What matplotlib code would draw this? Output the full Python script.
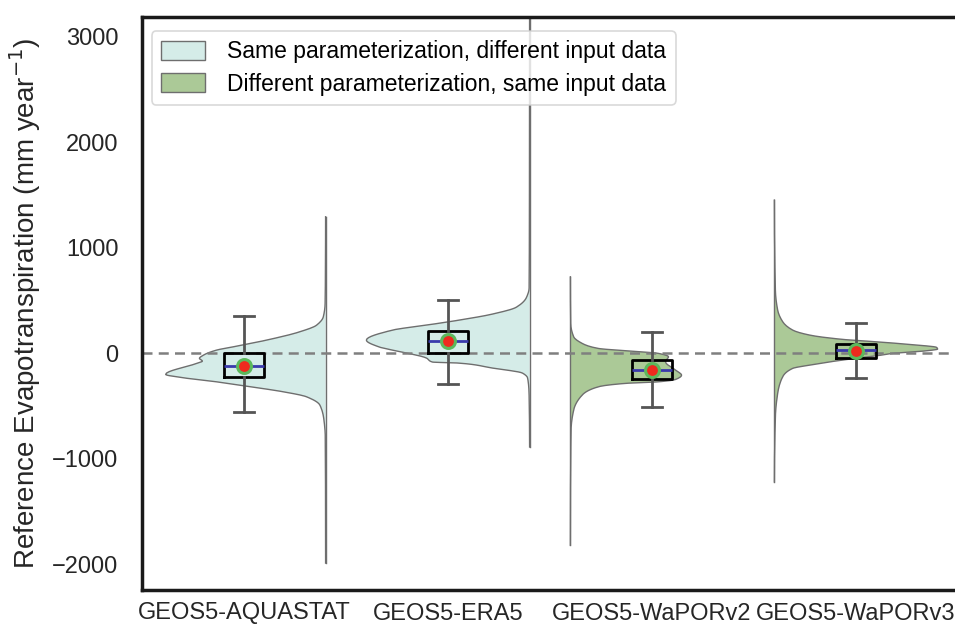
import matplotlib
matplotlib.use("Agg")
import matplotlib.pyplot as plt
from matplotlib.patches import Patch
import numpy as np

plt.rcParams['font.family'] = ['Liberation Sans', 'DejaVu Sans']

categories = ["GEOS5-AQUASTAT", "GEOS5-ERA5", "GEOS5-WaPORv2", "GEOS5-WaPORv3"]
groups = ["same", "same", "diff", "diff"]
legend_labels = ["Same parameterization, different input data",
                 "Different parameterization, same input data"]

# box statistics (mm/year)
q1 = [-227, 0, -246, -47]
med = [-123, 114, -161, 28]
q3 = [0, 208, -66, 85]
whislo = [-560, -294, -512, -237]
whishi = [350, 502, 199, 284]
means = [-123, 114, -161, 19]

# half-violin density profiles (y in mm/year, relative density)
aq_y = [-1990, -793, -635, -493, -414, -367, -319, -272, -234, -202, -98, -76, -50, -19, 28, 60, 123, 202, 265, 344, 471, 800, 1292]
aq_d = [0.0, 0.002, 0.010, 0.035, 0.117, 0.258, 0.46, 0.669, 0.871, 0.98, 0.791, 0.755, 0.773, 0.748, 0.669, 0.564, 0.362, 0.158, 0.055, 0.014, 0.003, 0.001, 0.0]
era_y = [-890, -400, -237, -190, -142, -95, -85, -47, 28, 57, 123, 218, 265, 313, 370, 436, 531, 616, 1500, 3400]
era_d = [0.0, 0.003, 0.012, 0.043, 0.227, 0.43, 0.595, 0.632, 0.84, 0.92, 1.0, 0.84, 0.632, 0.43, 0.227, 0.08, 0.018, 0.003, 0.001, 0.0]
wv2_y = [-1820, -730, -540, -398, -319, -287, -272, -250, -209, -161, -82, -35, -3, 22, 44, 92, 155, 281, 723]
wv2_d = [0.0, 0.004, 0.020, 0.072, 0.172, 0.337, 0.54, 0.644, 0.681, 0.644, 0.583, 0.601, 0.54, 0.337, 0.172, 0.072, 0.020, 0.002, 0.0]
wv3_y = [-1220, -604, -382, -224, -145, -114, -66, -26, -3, 22, 38, 54, 82, 107, 130, 171, 218, 297, 408, 597, 1450]
wv3_d = [0.0, 0.006, 0.020, 0.051, 0.112, 0.215, 0.417, 0.626, 0.724, 0.933, 1.0, 0.994, 0.828, 0.626, 0.417, 0.215, 0.112, 0.051, 0.020, 0.006, 0.0]

profiles = [(aq_y, aq_d), (era_y, era_d), (wv2_y, wv2_d), (wv3_y, wv3_d)]

fill_colors = {"same": "#d5ece8", "diff": "#abc997"}
edge_color = "#6e6e6e"


def pchip_curve(x, y, n=8):
    """Monotone cubic (Fritsch-Carlson) through the read points, for a smooth outline."""
    x = np.asarray(x, float)
    y = np.asarray(y, float)
    h = np.diff(x)
    delta = np.diff(y) / h
    m = np.zeros_like(y)
    for k in range(1, len(y) - 1):
        if delta[k - 1] * delta[k] > 0:
            w1 = 2 * h[k] + h[k - 1]
            w2 = h[k] + 2 * h[k - 1]
            m[k] = (w1 + w2) / (w1 / delta[k - 1] + w2 / delta[k])
    m[0] = 0.0
    m[-1] = 0.0
    xs, ys = [], []
    for k in range(len(x) - 1):
        t = np.linspace(0, 1, n, endpoint=False)
        h00 = 2 * t**3 - 3 * t**2 + 1
        h10 = t**3 - 2 * t**2 + t
        h01 = -2 * t**3 + 3 * t**2
        h11 = t**3 - t**2
        xs.append(x[k] + t * h[k])
        ys.append(h00 * y[k] + h10 * h[k] * m[k] + h01 * y[k + 1] + h11 * h[k] * m[k + 1])
    xs.append([x[-1]])
    ys.append([y[-1]])
    return np.concatenate(xs), np.clip(np.concatenate(ys), 0, None)


fig = plt.figure(figsize=(9.55, 6.3), dpi=100)
ax = fig.add_axes([142/955, 1-590/630, 816/955, 573/630])

half_width = 0.8
offset = 0.40
for i, (yy, dd) in enumerate(profiles):
    ys, ds = pchip_curve(yy, dd)
    if i < 2:
        base = i + offset
        xs = base - ds * half_width
    else:
        base = i - offset
        xs = base + ds * half_width
    ax.fill_betweenx(ys, base, xs, facecolor=fill_colors[groups[i]],
                     edgecolor='none', zorder=1)
    ax.plot(xs, ys, color=edge_color, lw=1.0, zorder=1.5)
    ax.plot([base, base], [ys[0], ys[-1]], color=edge_color, lw=1.0, zorder=1.5)

ax.axhline(0, color='#7f7f7f', lw=1.8, ls=(0, (4, 2.5)), zorder=2)

stats = []
for i in range(len(categories)):
    stats.append(dict(q1=q1[i], med=med[i], q3=q3[i], whislo=whislo[i],
                      whishi=whishi[i], mean=means[i], fliers=[], label=categories[i]))

ax.bxp(stats, positions=range(len(categories)), widths=0.2, showmeans=True,
       showfliers=False, patch_artist=False,
       boxprops=dict(color='black', lw=2),
       whiskerprops=dict(color='#555555', lw=2),
       capprops=dict(color='#555555', lw=2),
       medianprops=dict(color='#3a3aac', lw=2),
       meanprops=dict(marker='o', markerfacecolor='#ee2a1e', markeredgecolor='#5cb85c',
                      markersize=10, markeredgewidth=2.2),
       zorder=3)

ax.set_xlim(-0.5, 3.5)
ax.set_ylim(-2245, 3185)
ax.set_yticks([-2000, -1000, 0, 1000, 2000, 3000])
ax.set_yticklabels(["\u22122000", "\u22121000", "0", "1000", "2000", "3000"])
ax.set_xticks(range(len(categories)))
ax.set_xticklabels(categories)
ax.tick_params(axis='y', length=0, pad=17, labelsize=17, colors='#262626')
ax.tick_params(axis='x', length=0, pad=9, labelsize=17, colors='#262626')
ax.set_ylabel("Reference Evapotranspiration (mm year$^{-1}$)", fontsize=20, color='#262626')
ax.yaxis.set_label_coords(-0.121, 0.5)

for s in ax.spines.values():
    s.set_color('#1a1a1a')
    s.set_linewidth(2.5)

handles = [Patch(facecolor=fill_colors["same"], edgecolor=edge_color, lw=1),
           Patch(facecolor=fill_colors["diff"], edgecolor=edge_color, lw=1)]
leg = ax.legend(handles, legend_labels, loc='upper left', fontsize=16.5,
                frameon=True, fancybox=True, edgecolor='#d0d0d0',
                bbox_to_anchor=(-0.002, 0.995), handlelength=1.9, handleheight=0.9,
                labelspacing=0.4, borderpad=0.4, handletextpad=1.0)
leg.get_frame().set_linewidth(1.2)
leg.set_zorder(5)

fig.savefig("out.png", dpi=100)
